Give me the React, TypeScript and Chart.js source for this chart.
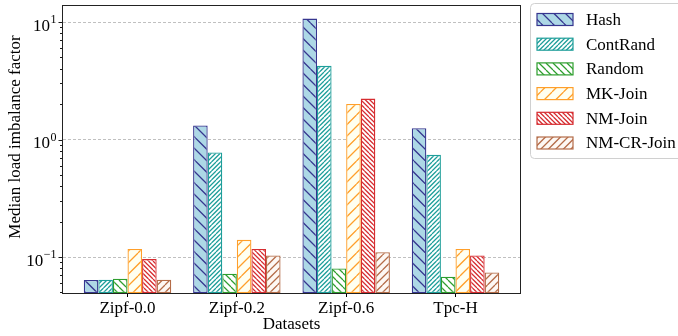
import React, { useEffect, useRef } from 'react';
import { Chart, registerables } from 'chart.js';

Chart.register(...registerables);

const categories = ['Zipf-0.0', 'Zipf-0.2', 'Zipf-0.6', 'Tpc-H'];
const seriesNames = ['Hash', 'ContRand', 'Random', 'MK-Join', 'NM-Join', 'NM-CR-Join'];
const hashValues = [0.0637, 1.32, 10.7, 1.25];
const contRandValues = [0.064, 0.775, 4.24, 0.741];
const randomValues = [0.0654, 0.072, 0.08, 0.068];
const mkJoinValues = [0.117, 0.14, 2.01, 0.117];
const nmJoinValues = [0.096, 0.117, 2.23, 0.103];
const nmCrJoinValues = [0.064, 0.103, 0.11, 0.074];
const seriesValues = [hashValues, contRandValues, randomValues, mkJoinValues, nmJoinValues, nmCrJoinValues];

const yTickValues = [0.1, 1, 10];
const yTickExponents = ['\u22121', '0', '1'];
const xTitle = 'Datasets';
const yTitle = 'Median load imbalance factor';

const FONT = '"Liberation Serif", "Times New Roman", serif';
const FS = 17;
const CW = 720;
const CH = 336;

type Hatch = { fill: string; edge: string; dir: '/' | '\\'; tile: number; lines: number };
const hatches: Hatch[] = [
  { fill: '#add8e6', edge: '#36368f', dir: '\\', tile: 23, lines: 2 },
  { fill: '#ffffff', edge: '#1e9e9a', dir: '/', tile: 9, lines: 2 },
  { fill: '#ffffff', edge: '#2e9e2e', dir: '\\', tile: 7, lines: 1 },
  { fill: '#fffff0', edge: '#ff9f2a', dir: '/', tile: 23, lines: 2 },
  { fill: '#ffffff', edge: '#d62c30', dir: '\\', tile: 9, lines: 2 },
  { fill: '#fdf8f4', edge: '#b46c48', dir: '/', tile: 15, lines: 2 },
];

function makePattern(ctx: CanvasRenderingContext2D, h: Hatch): CanvasPattern | string {
  const c = document.createElement('canvas');
  c.width = h.tile;
  c.height = h.tile;
  const g = c.getContext('2d');
  if (!g) return h.fill;
  const T = h.tile;
  g.fillStyle = h.fill;
  g.fillRect(0, 0, T, T);
  g.strokeStyle = h.edge;
  g.lineWidth = 1.25;
  const step = T / h.lines;
  g.beginPath();
  for (let k = -h.lines - 1; k <= h.lines + 1; k++) {
    const o = k * step;
    if (h.dir === '/') {
      g.moveTo(o, T);
      g.lineTo(o + T, 0);
    } else {
      g.moveTo(o, 0);
      g.lineTo(o + T, T);
    }
  }
  g.stroke();
  return ctx.createPattern(c, 'repeat') || h.fill;
}

export default function App() {
  const ref = useRef<HTMLCanvasElement | null>(null);

  useEffect(() => {
    const canvas = ref.current;
    if (!canvas) return;
    const ctx = canvas.getContext('2d');
    if (!ctx) return;
    const patterns = hatches.map((h) => makePattern(ctx, h));

    const decorPlugin = {
      id: 'decor',
      afterDraw(chart: any) {
        const c: CanvasRenderingContext2D = chart.ctx;
        const { left, right, top, bottom } = chart.chartArea;
        const ys = chart.scales.y;
        c.save();
        // spines
        c.strokeStyle = '#222';
        c.lineWidth = 1;
        c.strokeRect(left - 0.5, top - 0.5, right - left + 1, bottom - top + 1);
        // y ticks (major and minor)
        c.strokeStyle = '#000';
        c.lineWidth = 0.9;
        const decades = [0.01, 0.1, 1, 10];
        c.beginPath();
        for (const d of decades) {
          for (let k = 1; k <= 9; k++) {
            const v = k * d;
            if (v < ys.min || v > ys.max) continue;
            const py = Math.round(ys.getPixelForValue(v)) + 0.5;
            const len = k === 1 ? 3.5 : 2;
            c.moveTo(left - 1, py);
            c.lineTo(left - 1 - len, py);
          }
        }
        c.stroke();
        // y tick labels with superscript exponents
        c.fillStyle = '#000';
        c.textBaseline = 'alphabetic';
        yTickValues.forEach((v, i) => {
          const py = ys.getPixelForValue(v);
          const R = 56.5;
          c.font = `12px ${FONT}`;
          const ew = c.measureText(yTickExponents[i]).width;
          c.textAlign = 'left';
          c.fillText(yTickExponents[i], R - ew, py + 1);
          c.font = `${FS}px ${FONT}`;
          c.textAlign = 'right';
          c.fillText('10', R - ew - 0.5, py + 8.5);
        });
        // y title
        c.save();
        c.translate(16, 137);
        c.rotate(-Math.PI / 2);
        c.font = `${FS}px ${FONT}`;
        c.textAlign = 'center';
        c.textBaseline = 'middle';
        c.fillText(yTitle, 0, 0);
        c.restore();
        // legend
        const lx = 530.5;
        const ly = 3.5;
        c.beginPath();
        c.roundRect(lx, ly, 170, 155, 4);
        c.fillStyle = 'rgba(255,255,255,0.85)';
        c.fill();
        c.strokeStyle = '#d0d0d0';
        c.lineWidth = 1;
        c.stroke();
        seriesNames.forEach((name, i) => {
          const cy = 19.5 + i * 24.7;
          c.fillStyle = patterns[i] as any;
          c.fillRect(537, cy - 6, 36, 12);
          c.strokeStyle = hatches[i].edge;
          c.lineWidth = 1.2;
          c.strokeRect(537, cy - 6, 36, 12);
          c.fillStyle = '#000';
          c.font = `${FS}px ${FONT}`;
          c.textAlign = 'left';
          c.textBaseline = 'middle';
          c.fillText(name, 586, cy + 1);
        });
        c.restore();
      },
    };

    const chart = new Chart(canvas, {
      type: 'bar',
      data: {
        datasets: seriesNames.map((name, i) => ({
          label: name,
          data: seriesValues[i].map((v, j) => ({ x: j, y: v })),
          backgroundColor: patterns[i] as any,
          borderColor: hatches[i].edge,
          borderWidth: 1.3,
          borderSkipped: false,
          categoryPercentage: 0.8,
          barPercentage: 1,
        })),
      },
      options: {
        animation: false,
        responsive: false,
        devicePixelRatio: 1,
        layout: { padding: { left: 0, top: 6, right: CW - 520, bottom: 0 } },
        plugins: { legend: { display: false }, tooltip: { enabled: false } },
        scales: {
          x: {
            type: 'linear',
            min: -0.59,
            max: 3.59,
            bounds: 'data',
            offset: false,
            afterBuildTicks: (s: any) => {
              s.ticks = categories.map((_, i) => ({ value: i }));
            },
            afterFit: (s: any) => {
              s.height = 43;
            },
            ticks: {
              callback: (v: any) => categories[v as number] ?? '',
              font: { family: FONT, size: FS },
              color: '#000',
              padding: 1,
              maxRotation: 0,
              autoSkip: false,
            },
            grid: {
              offset: false,
              drawOnChartArea: false,
              drawTicks: true,
              tickLength: 4,
              tickColor: '#000',
              tickWidth: 1,
            },
            border: { display: false },
            title: {
              display: true,
              text: xTitle,
              font: { family: FONT, size: FS },
              color: '#000',
              padding: { top: 0, bottom: 1 },
            },
          },
          y: {
            type: 'logarithmic',
            min: 0.0494,
            max: 13.7,
            bounds: 'data',
            afterBuildTicks: (s: any) => {
              s.ticks = yTickValues.map((v) => ({ value: v, major: true }));
            },
            afterFit: (s: any) => {
              s.width = 63;
            },
            ticks: { display: false },
            grid: { color: '#b0b0b0', lineWidth: 0.8, drawTicks: false },
            border: { display: false, dash: [3, 2] },
          },
        },
      } as any,
      plugins: [decorPlugin],
    });
    return () => chart.destroy();
  }, []);

  return (
    <div style={{ position: 'fixed', left: 0, top: 0, width: 678, height: 336, overflow: 'hidden', background: '#fff' }}>
      <canvas ref={ref} width={CW} height={CH} style={{ width: CW, height: CH, display: 'block' }} />
    </div>
  );
}
